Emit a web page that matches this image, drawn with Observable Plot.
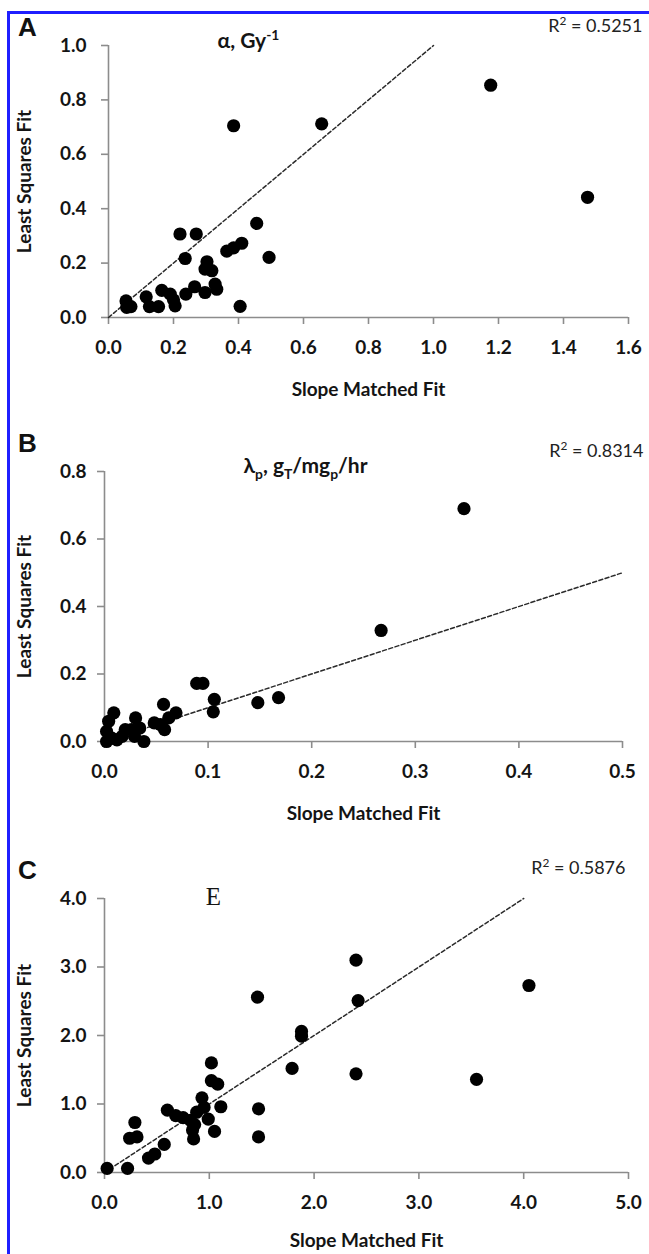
<!DOCTYPE html>
<html>
<head>
<meta charset="utf-8">
<script src="https://cdn.jsdelivr.net/npm/d3@7"></script>
<script src="https://cdn.jsdelivr.net/npm/@observablehq/plot@0.6"></script>
<style>
  body { margin: 0; background: #fff; }
  #wrap { position: relative; width: 649px; height: 1254px; overflow: hidden; background: #fff; }
  #border { position: absolute; left: 7px; top: 11px; width: 700px; height: 1300px;
            border-left: 3px solid #1f1fff; border-top: 3px solid #1f1fff; box-sizing: border-box; }
  .panel { position: absolute; left: 0; }
</style>
</head>
<body>
<div id="wrap"><div id="border"></div></div>
<script>
// ---------- Panel A: alpha, Gy^-1 ----------
const alphaSlope = [0.054,0.056,0.069,0.116,0.126,0.154,0.164,0.19,0.205,0.2,0.22,0.27,0.236,0.238,0.265,0.297,0.303,0.297,0.318,0.328,0.333,0.364,0.385,0.41,0.456,0.494,0.405,0.385,0.656,1.176,1.474];
const alphaLSQ   = [0.061,0.037,0.04,0.076,0.04,0.04,0.1,0.086,0.043,0.065,0.307,0.307,0.217,0.086,0.113,0.092,0.205,0.178,0.172,0.123,0.104,0.244,0.256,0.273,0.346,0.221,0.041,0.705,0.712,0.854,0.442];
const alphaXTicks = [0,0.2,0.4,0.6,0.8,1.0,1.2,1.4,1.6];
const alphaYTicks = [0,0.2,0.4,0.6,0.8,1.0];
const alphaLine = [0,1.0];

// ---------- Panel B: lambda_p ----------
const lambdaSlope = [0.002,0.004,0.009,0.002,0.007,0.012,0.017,0.020,0.026,0.030,0.029,0.034,0.038,0.048,0.054,0.057,0.058,0.062,0.069,0.089,0.095,0.106,0.105,0.148,0.168,0.267,0.347];
const lambdaLSQ   = [0.0,0.06,0.085,0.03,0.01,0.005,0.015,0.035,0.035,0.07,0.015,0.04,0.0,0.055,0.05,0.11,0.035,0.07,0.085,0.172,0.172,0.125,0.088,0.115,0.13,0.329,0.69];
const lambdaXTicks = [0,0.1,0.2,0.3,0.4,0.5];
const lambdaYTicks = [0,0.2,0.4,0.6,0.8];
const lambdaLine = [0,0.5];

// ---------- Panel C: E ----------
const eSlope = [0.025,0.22,0.29,0.24,0.31,0.42,0.48,0.57,0.60,0.68,0.75,0.82,0.84,0.85,0.86,0.88,0.93,0.95,0.99,1.05,1.11,1.02,1.02,1.08,1.47,1.47,1.46,1.79,1.88,1.88,2.40,2.42,2.40,3.55,4.05];
const eLSQ   = [0.06,0.06,0.73,0.50,0.52,0.21,0.27,0.41,0.91,0.83,0.80,0.76,0.62,0.49,0.70,0.88,1.09,0.95,0.78,0.60,0.96,1.60,1.34,1.29,0.93,0.52,2.56,1.52,2.06,1.99,3.10,2.51,1.44,1.36,2.73];
const eXTicks = [0,1,2,3,4,5];
const eYTicks = [0,1,2,3,4];
const eLine = [0.1,4.0];

const letters = ["A","B","C"];
const r2Labels = ["R2 = 0.5251","R2 = 0.8314","R2 = 0.5876"];
const xTitle = "Slope Matched Fit";
const yTitle = "Least Squares Fit";

const fmt = d3.format(".1f");
const AXIS = "#8c8c8c";
const LABEL_FONT = "Lato, 'Open Sans', sans-serif";

function richify(svg, plain, segs, fs) {
  d3.select(svg).selectAll("text").filter(function(){ return this.textContent === plain; }).each(function(){
    const t = d3.select(this);
    t.selectAll("*").remove();
    t.text(null);
    let shift = 0;
    for (const [s, kind] of segs) {
      const target = kind === "sup" ? -0.4*fs : kind === "sub" ? 0.28*fs : 0;
      const ts = t.append("tspan").text(s).attr("dy", target - shift);
      shift = target;
      if (kind) ts.attr("font-size", 0.66*fs);
    }
  });
}

function panel(cfg) {
  const rows = cfg.xs.map((x,i) => ({x, y: cfg.ys[i]}));
  const lineRows = cfg.line.map(v => ({x: v, y: v}));
  const yPad = cfg.left - 7 - 86;
  const svg = Plot.plot({
    width: 649,
    height: cfg.height,
    marginLeft: cfg.left,
    marginRight: 649 - cfg.right,
    marginTop: cfg.mt,
    marginBottom: cfg.mb,
    x: {domain: cfg.xDomain},
    y: {domain: cfg.yDomain},
    style: {fontFamily: LABEL_FONT, background: "transparent", overflow: "visible"},
    marks: [
      Plot.ruleY([cfg.yDomain[0]], {stroke: AXIS, strokeWidth: 1.6}),
      Plot.ruleX([cfg.xDomain[0]], {stroke: AXIS, strokeWidth: 1.6}),
      Plot.axisX(cfg.xTicks, {tickSize: 7, stroke: AXIS, strokeWidth: 1.6, tickPadding: 16, tickFormat: fmt,
        fontSize: 19, fontWeight: "bold", fill: "#141414", label: null}),
      Plot.axisY(cfg.yTicks, {tickSize: 7, stroke: AXIS, strokeWidth: 1.6, tickPadding: yPad, tickFormat: fmt,
        fontSize: 19, fontWeight: "bold", fill: "#141414", label: null}),
      Plot.line(lineRows, {x: "x", y: "y", stroke: "#2a2a2a", strokeWidth: 1.5, strokeDasharray: "4,2.5"}),
      Plot.dot(rows, {x: "x", y: "y", r: 6.6, fill: "#000", stroke: null}),
      Plot.text([xTitle], {frameAnchor: "bottom", dy: cfg.xTitleDy, lineAnchor: "middle", textAnchor: "middle",
        fontSize: 19, fontWeight: "bold", fill: "#141414"}),
      Plot.text([yTitle], {frameAnchor: "left", dx: 24 - cfg.left, rotate: -90, lineAnchor: "middle", textAnchor: "middle",
        fontSize: 19, fontWeight: "bold", fill: "#141414"}),
      Plot.text([cfg.letter], {frameAnchor: "top-left", dx: 27 - cfg.left, dy: cfg.letterDy, textAnchor: "middle", lineAnchor: "middle",
        fontSize: 26, fontWeight: "bold", fontFamily: "'Liberation Sans', Arial, sans-serif", fill: "#111"}),
      Plot.text([cfg.r2], {frameAnchor: "top-right", dx: cfg.r2Dx, dy: cfg.r2Dy, textAnchor: "end", lineAnchor: "middle",
        fontSize: 18, fill: "#222"}),
      Plot.text([cfg.title], {frameAnchor: "top-left", dx: cfg.titleDx, dy: cfg.titleDy,
        textAnchor: cfg.titleAnchor, lineAnchor: "middle",
        fontSize: cfg.titleSize, fontWeight: cfg.titleWeight, fontFamily: cfg.titleFont, fill: "#141414"})
    ]
  });
  richify(svg, cfg.r2, [["R"],["2","sup"],[cfg.r2.slice(2)]], 18);
  if (cfg.titleSegs) richify(svg, cfg.title, cfg.titleSegs, cfg.titleSize);
  svg.classList.add("panel");
  svg.style.top = cfg.top + "px";
  svg.style.position = "absolute";
  document.getElementById("wrap").appendChild(svg);
}

panel({
  xs: alphaSlope, ys: alphaLSQ, xTicks: alphaXTicks, yTicks: alphaYTicks, line: alphaLine,
  xDomain: [0,1.6], yDomain: [0,1.0],
  top: 0, height: 420, left: 108, right: 628, mt: 45, mb: 420 - 317,
  xTitleDy: 72, letter: letters[0], letterDy: -18, r2: r2Labels[0], r2Dx: 14, r2Dy: -19,
  title: "α, Gy-1", titleSegs: [["α, Gy"],["-1","sup"]], titleDx: 109, titleDy: -4, titleAnchor: "start",
  titleSize: 21, titleWeight: "bold", titleFont: LABEL_FONT
});

panel({
  xs: lambdaSlope, ys: lambdaLSQ, xTicks: lambdaXTicks, yTicks: lambdaYTicks, line: lambdaLine,
  xDomain: [0,0.5], yDomain: [0,0.8],
  top: 420, height: 427, left: 104, right: 622, mt: 471 - 420, mb: 847 - 741,
  xTitleDy: 72, letter: letters[1], letterDy: -28, r2: r2Labels[1], r2Dx: 21, r2Dy: -20,
  title: "λp, gT/mgp/hr", titleSegs: [["λ"],["p","sub"],[", g"],["T","sub"],["/mg"],["p","sub"],["/hr"]],
  titleDx: 139, titleDy: -5, titleAnchor: "start",
  titleSize: 21, titleWeight: "bold", titleFont: LABEL_FONT
});

panel({
  xs: eSlope, ys: eLSQ, xTicks: eXTicks, yTicks: eYTicks, line: eLine,
  xDomain: [0,5], yDomain: [0,4],
  top: 847, height: 407, left: 104, right: 628, mt: 898 - 847, mb: 1254 - 1172,
  xTitleDy: 68, letter: letters[2], letterDy: -28, r2: r2Labels[2], r2Dx: -3, r2Dy: -30,
  title: "E", titleSegs: null, titleDx: 109, titleDy: -2, titleAnchor: "middle",
  titleSize: 25, titleWeight: "normal", titleFont: "'Liberation Serif', 'Times New Roman', serif"
});
</script>
</body>
</html>
